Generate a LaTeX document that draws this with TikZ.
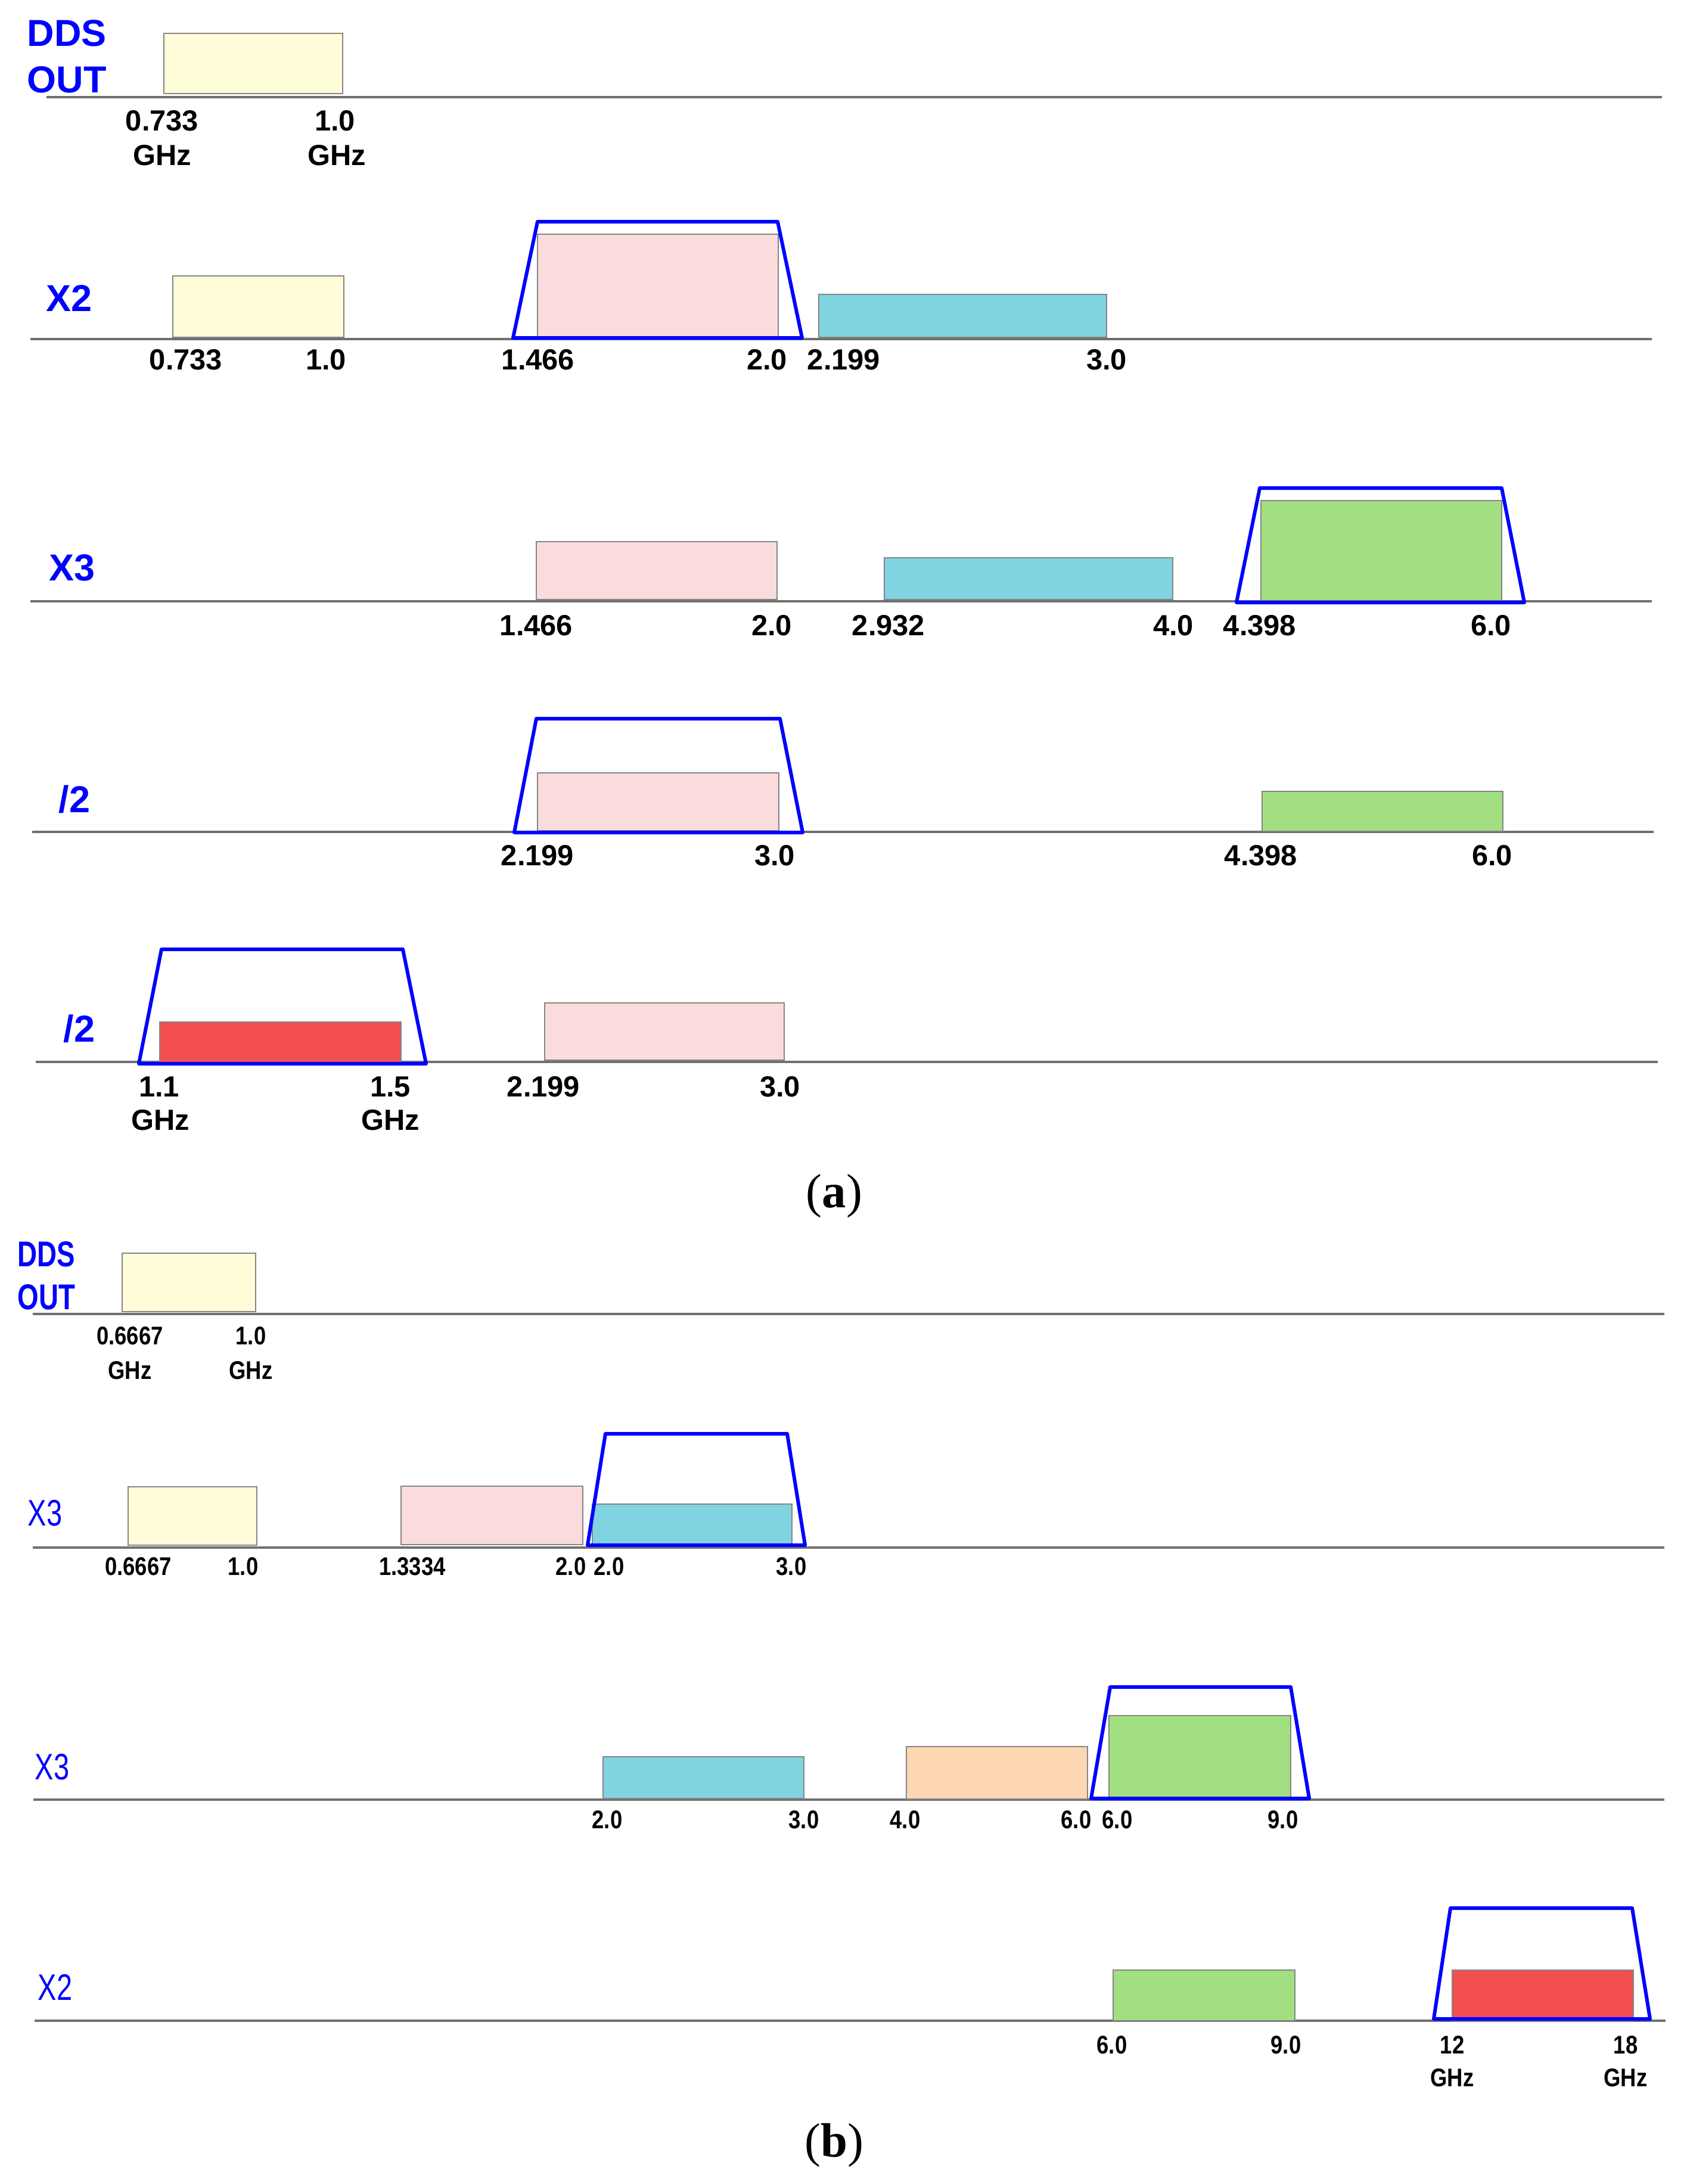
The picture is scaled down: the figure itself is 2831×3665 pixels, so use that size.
\documentclass[tikz,border=0pt]{standalone}
\usepackage{fontspec}
\setmainfont{Liberation Sans}
\newfontfamily\capfont{Liberation Serif}
\newfontfamily\narrownum[FakeStretch=0.85]{Liberation Sans}
\newfontfamily\narrowlab[FakeStretch=0.76]{Liberation Sans}
\definecolor{yel}{HTML}{FFFDD9}
\definecolor{pnk}{HTML}{FADCDD}
\definecolor{cyn}{HTML}{80D4E1}
\definecolor{grn}{HTML}{A2DF80}
\definecolor{rd}{HTML}{F24E4F}
\definecolor{org}{HTML}{FDD6B3}
\definecolor{axisgray}{HTML}{707070}
\definecolor{boxgray}{HTML}{858585}
\definecolor{fblue}{HTML}{0000FF}
\tikzset{
  axisline/.style={draw=axisgray, line width=1.15pt},
  band/.style={draw=boxgray, line width=0.8pt},
  filt/.style={draw=fblue, line width=1.7pt, line join=round},
  numa/.style={inner sep=0pt, anchor=base, font=\fontsize{13.9pt}{15pt}\selectfont\bfseries},
  numb/.style={inner sep=0pt, anchor=base, font=\fontsize{12.2pt}{14pt}\narrownum\bfseries},
  laba/.style={inner sep=0pt, anchor=base west, text=fblue, font=\fontsize{17.9pt}{20pt}\selectfont\bfseries},
  labbb/.style={inner sep=0pt, anchor=base west, text=fblue, font=\fontsize{17.1pt}{20pt}\narrowlab\bfseries},
  labbr/.style={inner sep=0pt, anchor=base west, text=fblue, font=\fontsize{17.6pt}{20pt}\narrowlab},
  captxt/.style={inner sep=0pt, anchor=center, font=\fontsize{23pt}{26pt}\capfont}
}
\begin{document}
\begin{tikzpicture}[x=0.01cm, y=-0.01cm]
\useasboundingbox (0,0) rectangle (2831,3665);
\fill[white] (0,0) rectangle (2831,3665);

% ================= (a) =================
% row 1: DDS OUT
\coordinate (a1s) at (78,163); \coordinate (a1e) at (2789,163);
\draw[axisline] (a1s) -- (a1e);
\draw[band, fill=yel] (275,56) rectangle (575,157);
\node[laba] (a1dds) at (45,77) {DDS};
\node[laba] (a1out) at (45,155) {OUT};
\node[numa] (a1n1) at (272,219) {0.733};
\node[numa] (a1g1) at (272,277) {GHz};
\node[numa] (a1n2) at (562,219) {1.0};
\node[numa] (a1g2) at (565,277) {GHz};

% row 2: X2
\coordinate (a2s) at (51,569); \coordinate (a2e) at (2772,569);
\draw[axisline] (a2s) -- (a2e);
\draw[band, fill=yel] (290,463) rectangle (577,566);
\draw[band, fill=pnk] (902,393) rectangle (1306,566);
\draw[band, fill=cyn] (1374,494) rectangle (1857,566);
\draw[filt] (861,567) -- (902,372) -- (1305,372) -- (1346,567) -- cycle;
\node[laba] (a2lab) at (77,522) {X2};
\node[numa] (a2n1) at (312,620) {0.733};
\node[numa] (a2n2) at (547,620) {1.0};
\node[numa] (a2n3) at (903,620) {1.466};
\node[numa] (a2n4) at (1287,620) {2.0};
\node[numa] (a2n5) at (1416,620) {2.199};
\node[numa] (a2n6) at (1857,620) {3.0};

% row 3: X3
\coordinate (a3s) at (51,1009); \coordinate (a3e) at (2772,1009);
\draw[axisline] (a3s) -- (a3e);
\draw[band, fill=pnk] (900,909) rectangle (1304,1006);
\draw[band, fill=cyn] (1484,936) rectangle (1968,1006);
\draw[band, fill=grn] (2116,840) rectangle (2520,1008);
\draw[filt] (2075,1011) -- (2114,819) -- (2520,819) -- (2558,1011) -- cycle;
\node[laba] (a3lab) at (82,974) {X3};
\node[numa] (a3n1) at (900,1066) {1.466};
\node[numa] (a3n2) at (1295,1066) {2.0};
\node[numa] (a3n3) at (1491,1066) {2.932};
\node[numa] (a3n4) at (1969,1066) {4.0};
\node[numa] (a3n5) at (2114,1066) {4.398};
\node[numa] (a3n6) at (2502,1066) {6.0};

% row 4: /2
\coordinate (a4s) at (54,1396); \coordinate (a4e) at (2775,1396);
\draw[axisline] (a4s) -- (a4e);
\draw[band, fill=pnk] (902,1297) rectangle (1307,1394);
\draw[band, fill=grn] (2118,1328) rectangle (2522,1395);
\draw[filt] (863,1397) -- (900,1206) -- (1309,1206) -- (1347,1397) -- cycle;
\node[laba] (a4lab) at (98,1363) {/2};
\node[numa] (a4n1) at (902,1452) {2.199};
\node[numa] (a4n2) at (1300,1452) {3.0};
\node[numa] (a4n3) at (2116,1452) {4.398};
\node[numa] (a4n4) at (2504,1452) {6.0};

% row 5: /2
\coordinate (a5s) at (60,1782); \coordinate (a5e) at (2782,1782);
\draw[axisline] (a5s) -- (a5e);
\draw[band, fill=rd] (268,1715) rectangle (673,1783);
\draw[band, fill=pnk] (914,1683) rectangle (1316,1779);
\draw[filt] (233,1785) -- (271,1593) -- (676,1593) -- (715,1785) -- cycle;
\node[laba] (a5lab) at (106,1748) {/2};
\node[numa] (a5n1) at (267,1840) {1.1};
\node[numa] (a5g1) at (269,1896) {GHz};
\node[numa] (a5n2) at (655,1840) {1.5};
\node[numa] (a5g2) at (655,1896) {GHz};
\node[numa] (a5n3) at (912,1840) {2.199};
\node[numa] (a5n4) at (1309,1840) {3.0};

\node[captxt] (capa) at (1400,2007) {(\textbf{a})};

% ================= (b) =================
% row 1: DDS OUT
\coordinate (b1s) at (55,2205); \coordinate (b1e) at (2793,2205);
\draw[axisline] (b1s) -- (b1e);
\draw[band, fill=yel] (205,2103) rectangle (429,2201);
\node[labbb] (b1dds) at (29,2125) {DDS};
\node[labbb] (b1out) at (29,2197) {OUT};
\node[numb] (b1n1) at (218,2256) {0.6667};
\node[numb] (b1g1) at (218,2314) {GHz};
\node[numb] (b1n2) at (421,2256) {1.0};
\node[numb] (b1g2) at (421,2314) {GHz};

% row 2: X3
\coordinate (b2s) at (55,2597); \coordinate (b2e) at (2793,2597);
\draw[axisline] (b2s) -- (b2e);
\draw[band, fill=yel] (215,2495) rectangle (431,2593);
\draw[band, fill=pnk] (673,2494) rectangle (978,2592);
\draw[band, fill=cyn] (994,2524) rectangle (1329,2593);
\draw[filt] (986,2593) -- (1016,2406) -- (1321,2406) -- (1351,2593) -- cycle;
\node[labbr] (b2lab) at (46,2560) {X3};
\node[numb] (b2n1) at (232,2643) {0.6667};
\node[numb] (b2n2) at (408,2643) {1.0};
\node[numb] (b2n3) at (692,2643) {1.3334};
\node[numb] (b2n4) at (958,2643) {2.0};
\node[numb] (b2n5) at (1022,2643) {2.0};
\node[numb] (b2n6) at (1328,2643) {3.0};

% row 3: X3
\coordinate (b3s) at (56,3020); \coordinate (b3e) at (2793,3020);
\draw[axisline] (b3s) -- (b3e);
\draw[band, fill=cyn] (1012,2948) rectangle (1349,3018);
\draw[band, fill=org] (1521,2931) rectangle (1825,3019);
\draw[band, fill=grn] (1861,2879) rectangle (2166,3018);
\draw[filt] (1831,3018) -- (1863,2831) -- (2166,2831) -- (2197,3018) -- cycle;
\node[labbr] (b3lab) at (58,2986) {X3};
\node[numb] (b3n1) at (1019,3068) {2.0};
\node[numb] (b3n2) at (1349,3068) {3.0};
\node[numb] (b3n3) at (1519,3068) {4.0};
\node[numb] (b3n4) at (1806,3068) {6.0};
\node[numb] (b3n5) at (1875,3068) {6.0};
\node[numb] (b3n6) at (2153,3068) {9.0};

% row 4: X2
\coordinate (b4s) at (58,3391); \coordinate (b4e) at (2795,3391);
\draw[axisline] (b4s) -- (b4e);
\draw[band, fill=grn] (1868,3306) rectangle (2173,3391);
\draw[band, fill=rd] (2437,3306) rectangle (2741,3391);
\draw[filt] (2406,3388) -- (2434,3202) -- (2739,3202) -- (2769,3388) -- cycle;
\node[labbr] (b4lab) at (63,3356) {X2};
\node[numb] (b4n1) at (1866,3446) {6.0};
\node[numb] (b4n2) at (2158,3446) {9.0};
\node[numb] (b4n3) at (2437,3446) {12};
\node[numb] (b4g3) at (2437,3501) {GHz};
\node[numb] (b4n4) at (2728,3446) {18};
\node[numb] (b4g4) at (2728,3501) {GHz};

\node[captxt] (capb) at (1400,3600) {(\textbf{b})};
\end{tikzpicture}
\end{document}
